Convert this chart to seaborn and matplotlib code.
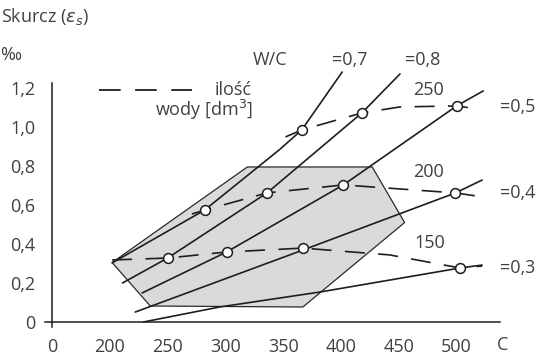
import numpy as np
import pandas as pd
import matplotlib
matplotlib.use("Agg")
import matplotlib.pyplot as plt
import seaborn as sns

sns.set_style("white")
plt.rcParams['font.family'] = ['Open Sans', 'DejaVu Sans']

# cement content C [kg/m3] vs shrinkage [per mille], curves
wc07_c = [202, 282, 347, 366, 401]
wc07_s = [0.303, 0.574, 0.885, 0.985, 1.282]
wc08_c = [211, 250, 336, 418, 451]
wc08_s = [0.200, 0.328, 0.662, 1.072, 1.272]
wc05_c = [228, 301, 402, 500, 523]
wc05_s = [0.149, 0.359, 0.703, 1.108, 1.185]
wc04_c = [222, 367, 499, 522]
wc04_s = [0.051, 0.369, 0.662, 0.728]
wc03_c = [229, 295, 382, 503, 522]
wc03_s = [0.0, 0.077, 0.154, 0.277, 0.292]

# water amount lines (dashed)
w250_c = [352, 366, 418, 451, 500, 513]
w250_s = [0.949, 0.985, 1.072, 1.103, 1.108, 1.097]
w200_c = [271, 282, 336, 402, 499, 523]
w200_s = [0.554, 0.574, 0.662, 0.703, 0.662, 0.641]
w150_c = [202, 250, 301, 367, 442, 503, 522]
w150_s = [0.318, 0.328, 0.359, 0.379, 0.344, 0.277, 0.287]

# crossing points (circles)
pts_c = [366, 418, 500, 282, 336, 402, 499, 250, 301, 367, 503]
pts_s = [0.985, 1.072, 1.108, 0.574, 0.662, 0.703, 0.662, 0.328, 0.359, 0.379, 0.277]

# shaded region
poly_c = [202, 319, 427, 455, 367, 235]
poly_s = [0.305, 0.795, 0.795, 0.51, 0.077, 0.082]

x_ticks = [150, 200, 250, 300, 350, 400, 450, 500]
x_labels = ["0", "200", "250", "300", "350", "400", "450", "500"]
y_ticks = [0, 0.2, 0.4, 0.6, 0.8, 1.0, 1.2]
y_labels = ["0", "0,2", "0,4", "0,6", "0,8", "1,0", "1,2"]

ink = "#1e1e1e"
txt = "#404040"
fs = 13

fig = plt.figure(figsize=(5.39, 3.56), dpi=100)
ax = fig.add_axes([52 / 539, 34 / 356, 448 / 539, 234 / 356])

ax.fill(poly_c, poly_s, facecolor="#dadada", edgecolor="#2a2a2a", lw=0.9, zorder=1)

for c, s in [(wc07_c, wc07_s), (wc08_c, wc08_s), (wc05_c, wc05_s),
             (wc04_c, wc04_s), (wc03_c, wc03_s)]:
    sns.lineplot(x=c, y=s, ax=ax, color=ink, lw=1.2, estimator=None, zorder=3)
    ax.lines[-1].set_clip_on(False)

for c, s in [(w250_c, w250_s), (w200_c, w200_s), (w150_c, w150_s)]:
    sns.lineplot(x=c, y=s, ax=ax, color=ink, lw=1.2, estimator=None, zorder=3)
    ax.lines[-1].set_dashes((12, 8))
    ax.lines[-1].set_clip_on(False)

sns.scatterplot(x=pts_c, y=pts_s, ax=ax, s=50, color="white", edgecolor=ink,
                linewidth=1.1, zorder=5)

# legend sample
ax.plot([191, 271], [1.19, 1.19], color=ink, lw=1.3, dashes=(12, 8), clip_on=False)
ax.text(323, 1.19, "ilość", ha="right", va="center", fontsize=fs, color=txt)
ax.text(324, 1.087, "wody [dm$^3$]", ha="right", va="center", fontsize=fs, color=txt)

ax.set_xlim(150, 537.5)
ax.set_ylim(0, 1.2)
ax.set_xticks(x_ticks)
ax.set_xticklabels(x_labels)
ax.set_yticks(y_ticks)
ax.set_yticklabels(y_labels)
ax.tick_params(axis="both", direction="inout", colors=ink, labelcolor=txt,
               labelsize=fs, width=1.1)
ax.tick_params(axis="x", length=11, pad=6)
ax.tick_params(axis="y", length=12, pad=6)
for side in ["top", "right"]:
    ax.spines[side].set_visible(False)
for side in ["left", "bottom"]:
    ax.spines[side].set_color(ink)
    ax.spines[side].set_linewidth(1.1)
ax.spines["left"].set_bounds(-0.025, 1.225)
ax.spines["bottom"].set_bounds(144, 537.5)
ax.set_xlabel("")
ax.set_ylabel("")

ax.text(540, -0.118, "C", ha="center", va="center", fontsize=fs, color=txt, clip_on=False)
ax.text(338.6, 1.344, "W/C", ha="center", va="center", fontsize=fs, color=txt)
ax.text(407.8, 1.344, "=0,7", ha="center", va="center", fontsize=fs, color=txt)
ax.text(470.9, 1.344, "=0,8", ha="center", va="center", fontsize=fs, color=txt)
ax.text(476, 1.19, "250", ha="center", va="center", fontsize=fs, color=txt)
ax.text(476, 0.769, "200", ha="center", va="center", fontsize=fs, color=txt)
ax.text(477, 0.405, "150", ha="center", va="center", fontsize=fs, color=txt)
ax.text(553, 1.103, "=0,5", ha="center", va="center", fontsize=fs, color=txt, clip_on=False)
ax.text(553, 0.662, "=0,4", ha="center", va="center", fontsize=fs, color=txt, clip_on=False)
ax.text(553, 0.277, "=0,3", ha="center", va="center", fontsize=fs, color=txt, clip_on=False)
ax.text(105.5, 1.37, "‰", ha="left", va="center", fontsize=fs, color=txt)
ax.text(105.5, 1.565, "Skurcz ($\\varepsilon_s$)", ha="left", va="center", fontsize=fs, color=txt)

fig.savefig("out.png", dpi=100)
